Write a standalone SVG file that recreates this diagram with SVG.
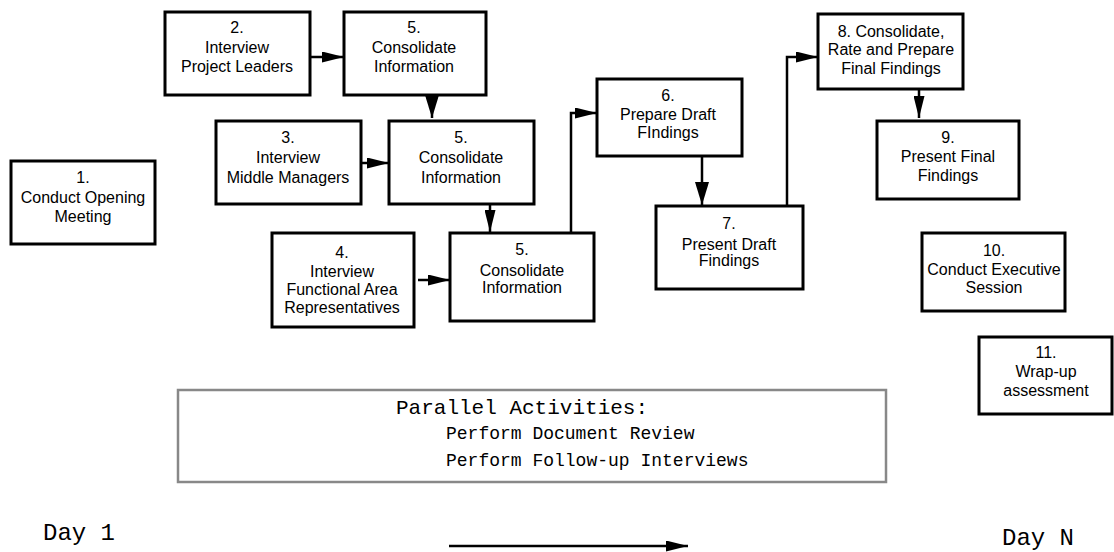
<svg xmlns="http://www.w3.org/2000/svg" width="1114" height="552" viewBox="0 0 1114 552">
<style>
.box{fill:#fff;stroke:#000;stroke-width:3}
.lbl{font-family:"Liberation Sans",Arial,sans-serif;font-size:16px;fill:#000;text-anchor:middle}
.con{fill:none;stroke:#000;stroke-width:2.5}
.par{fill:#fff;stroke:#888;stroke-width:2.5}
.mono{font-family:"Liberation Mono","Courier New",monospace;fill:#000}
</style>
<defs>
<marker id="arr" markerUnits="userSpaceOnUse" markerWidth="22" markerHeight="11" refX="22" refY="5.5" orient="auto"><path d="M0,0 L22,5.5 L0,11 z" fill="#000"/></marker>
<marker id="arrL" markerUnits="userSpaceOnUse" markerWidth="23" markerHeight="14" refX="23" refY="7" orient="auto"><path d="M0,0 L23,7 L0,14 z" fill="#000"/></marker>
</defs>
<rect width="1114" height="552" fill="#fff"/>
<g id="connectors">
<line class="con" x1="310" y1="57" x2="344" y2="57" marker-end="url(#arr)"/>
<line class="con" x1="432" y1="95" x2="432" y2="118" marker-end="url(#arrL)"/>
<line class="con" x1="361" y1="163" x2="389" y2="163" marker-end="url(#arr)"/>
<line class="con" x1="490" y1="204" x2="490" y2="232" marker-end="url(#arr)"/>
<line class="con" x1="418" y1="280" x2="450" y2="280" marker-end="url(#arr)"/>
<polyline class="con" points="571,233 571,113 597,113" marker-end="url(#arr)"/>
<line class="con" x1="702" y1="156" x2="702" y2="205" marker-end="url(#arrL)"/>
<polyline class="con" points="787,206 787,57 818,57" marker-end="url(#arr)"/>
<line class="con" x1="919" y1="89" x2="919" y2="118" marker-end="url(#arr)"/>
<line class="con" x1="449" y1="546" x2="688" y2="546" stroke-width="3" marker-end="url(#arr)"/>
</g>
<g id="n1"><rect class="box" x="11" y="161" width="144" height="83"/><text class="lbl"><tspan x="83" y="183">1.</tspan><tspan x="83" y="203">Conduct Opening</tspan><tspan x="83" y="222">Meeting</tspan></text></g>
<g id="n2"><rect class="box" x="165" y="12" width="145" height="83"/><text class="lbl"><tspan x="237" y="33">2.</tspan><tspan x="237" y="53">Interview</tspan><tspan x="237" y="72">Project Leaders</tspan></text></g>
<g id="n5a"><rect class="box" x="344" y="12" width="142" height="83"/><text class="lbl"><tspan x="414" y="33">5.</tspan><tspan x="414" y="53">Consolidate</tspan><tspan x="414" y="72">Information</tspan></text></g>
<g id="n3"><rect class="box" x="216" y="121" width="145" height="83"/><text class="lbl"><tspan x="288" y="143">3.</tspan><tspan x="288" y="163">Interview</tspan><tspan x="288" y="183">Middle Managers</tspan></text></g>
<g id="n5b"><rect class="box" x="389" y="121" width="145" height="83"/><text class="lbl"><tspan x="461" y="143">5.</tspan><tspan x="461" y="163">Consolidate</tspan><tspan x="461" y="183">Information</tspan></text></g>
<g id="n4"><rect class="box" x="272" y="233" width="142" height="94"/><text class="lbl"><tspan x="342" y="258">4.</tspan><tspan x="342" y="277">Interview</tspan><tspan x="342" y="295">Functional Area</tspan><tspan x="342" y="313">Representatives</tspan></text></g>
<g id="n5c"><rect class="box" x="450" y="233" width="144" height="88"/><text class="lbl"><tspan x="522" y="255">5.</tspan><tspan x="522" y="276">Consolidate</tspan><tspan x="522" y="293">Information</tspan></text></g>
<g id="n6"><rect class="box" x="597" y="79" width="145" height="77"/><text class="lbl"><tspan x="668" y="101">6.</tspan><tspan x="668" y="120">Prepare Draft</tspan><tspan x="668" y="138">FIndings</tspan></text></g>
<g id="n7"><rect class="box" x="656" y="206" width="147" height="83"/><text class="lbl"><tspan x="729" y="229">7.</tspan><tspan x="729" y="250">Present Draft</tspan><tspan x="729" y="266">Findings</tspan></text></g>
<g id="n8"><rect class="box" x="818" y="14" width="145" height="75"/><text class="lbl"><tspan x="891" y="37">8. Consolidate,</tspan><tspan x="891" y="55">Rate and Prepare</tspan><tspan x="891" y="74">Final Findings</tspan></text></g>
<g id="n9"><rect class="box" x="877" y="121" width="142" height="78"/><text class="lbl"><tspan x="948" y="143">9.</tspan><tspan x="948" y="162">Present Final</tspan><tspan x="948" y="181">Findings</tspan></text></g>
<g id="n10"><rect class="box" x="922" y="233" width="143" height="78"/><text class="lbl"><tspan x="994" y="256">10.</tspan><tspan x="994" y="275">Conduct Executive</tspan><tspan x="994" y="293">Session</tspan></text></g>
<g id="n11"><rect class="box" x="979" y="337" width="133" height="77"/><text class="lbl"><tspan x="1046" y="358">11.</tspan><tspan x="1046" y="377">Wrap-up</tspan><tspan x="1046" y="396">assessment</tspan></text></g>
<g id="parallel"><rect class="par" x="178" y="390" width="708" height="92"/>
<text class="mono" font-size="21" x="396" y="414">Parallel Activities:</text>
<text class="mono" font-size="18" x="446" y="439">Perform Document Review</text>
<text class="mono" font-size="18" x="446" y="466">Perform Follow-up Interviews</text></g>
<g id="days">
<text class="mono" font-size="24" x="43" y="540">Day 1</text>
<text class="mono" font-size="24" x="1002" y="545">Day N</text>
</g>
</svg>
